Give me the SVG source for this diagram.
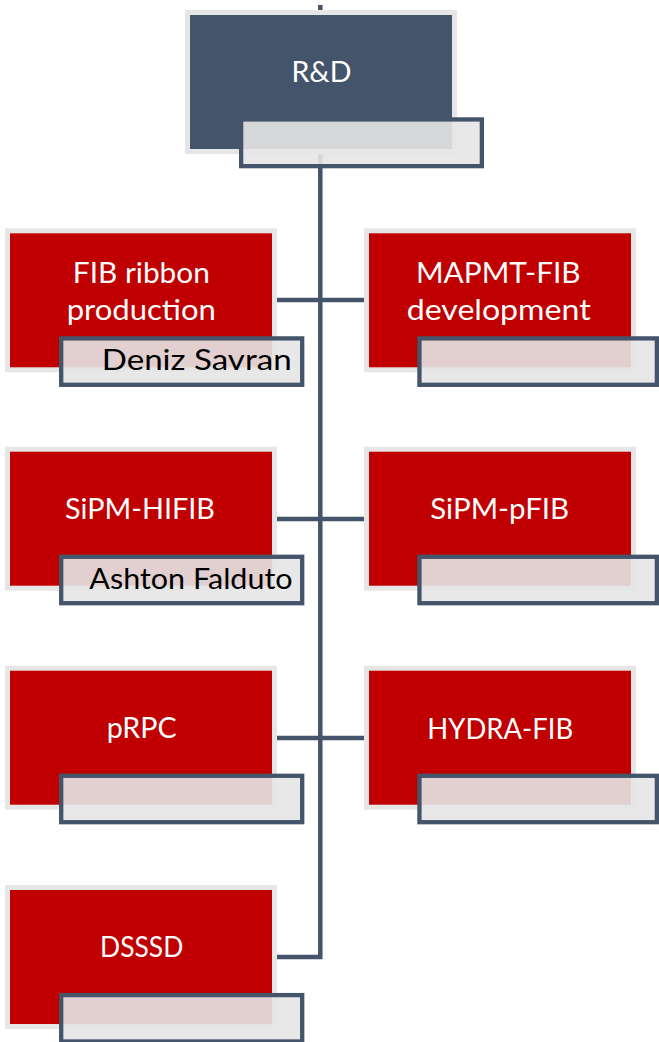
<svg xmlns="http://www.w3.org/2000/svg" width="659" height="1042" viewBox="0 0 659 1042">
<style>
.box{stroke:#E6E6E6;stroke-width:5}
.head{fill:#44546A}
.unit{fill:#C00000}
.tag{fill:#E6E6E6;fill-opacity:0.9;stroke:#44546A;stroke-width:4.3}
.t{font-family:Lato,"Liberation Sans",sans-serif;font-size:29px;fill:#FFFFFF;text-anchor:middle}
.n{font-family:Lato,"Liberation Sans",sans-serif;font-size:28px;fill:#000000}
.wire{fill:none;stroke:#44546A;stroke-width:4.5}
</style>
<rect width="659" height="1042" fill="#FFFFFF"/>

<!-- trunk and branches, drawn beneath the boxes -->
<g id="connectors">
  <path class="wire" d="M320.3,5 V957 H277"/>
  <path class="wire" d="M277,300 H364"/>
  <path class="wire" d="M277,519 H364"/>
  <path class="wire" d="M277,738 H364"/>
</g>

<g id="rnd">
  <rect class="box head" x="187.5" y="12.5" width="267" height="139"/>
  <text class="t" x="321.4" y="81.7" font-size="30" textLength="60" lengthAdjust="spacingAndGlyphs">R&amp;D</text>
  <rect class="tag" x="241.15" y="119.45" width="240.7" height="46.7"/>
</g>

<g id="fib-ribbon">
  <rect class="box unit" x="7.5" y="230.8" width="267" height="139"/>
  <text class="t" x="141.3" y="282.7" textLength="137" lengthAdjust="spacingAndGlyphs">FIB ribbon</text>
  <text class="t" x="141.3" y="320" textLength="149.3" lengthAdjust="spacingAndGlyphs">production</text>
  <rect class="tag" x="61.2" y="338.4" width="241" height="46.4"/>
  <text class="n" x="101.7" y="370" textLength="190" lengthAdjust="spacingAndGlyphs">Deniz Savran</text>
</g>

<g id="mapmt-fib">
  <rect class="box unit" x="366.5" y="230.8" width="267" height="139"/>
  <text class="t" x="498.3" y="283.3" textLength="164.7" lengthAdjust="spacingAndGlyphs">MAPMT-FIB</text>
  <text class="t" x="498.7" y="320" textLength="184" lengthAdjust="spacingAndGlyphs">development</text>
  <rect class="tag" x="419.45" y="338.4" width="237.4" height="46.4"/>
</g>

<g id="sipm-hifib">
  <rect class="box unit" x="7.5" y="449.2" width="267" height="139"/>
  <text class="t" x="140" y="519.3" textLength="150" lengthAdjust="spacingAndGlyphs">SiPM-HIFIB</text>
  <rect class="tag" x="61.2" y="556.8" width="241" height="46.4"/>
  <text class="n" x="89.3" y="589.3" textLength="203.3" lengthAdjust="spacingAndGlyphs">Ashton Falduto</text>
</g>

<g id="sipm-pfib">
  <rect class="box unit" x="366.5" y="449.2" width="267" height="139"/>
  <text class="t" x="499.7" y="519.3" textLength="139" lengthAdjust="spacingAndGlyphs">SiPM-pFIB</text>
  <rect class="tag" x="419.45" y="556.8" width="237.4" height="46.4"/>
</g>

<g id="prpc">
  <rect class="box unit" x="7.5" y="668.2" width="267" height="139"/>
  <text class="t" x="141.7" y="738.3" textLength="70" lengthAdjust="spacingAndGlyphs">pRPC</text>
  <rect class="tag" x="61.2" y="775.8" width="241" height="46.4"/>
</g>

<g id="hydra-fib">
  <rect class="box unit" x="366.5" y="668.2" width="267" height="139"/>
  <text class="t" x="500.3" y="739" textLength="146" lengthAdjust="spacingAndGlyphs">HYDRA-FIB</text>
  <rect class="tag" x="419.45" y="775.8" width="237.4" height="46.4"/>
</g>

<g id="dsssd">
  <rect class="box unit" x="7.5" y="887.5" width="267" height="139"/>
  <text class="t" x="141.7" y="956.7" textLength="83.3" lengthAdjust="spacingAndGlyphs">DSSSD</text>
  <rect class="tag" x="61.2" y="995.1" width="241" height="46.4"/>
</g>
</svg>
